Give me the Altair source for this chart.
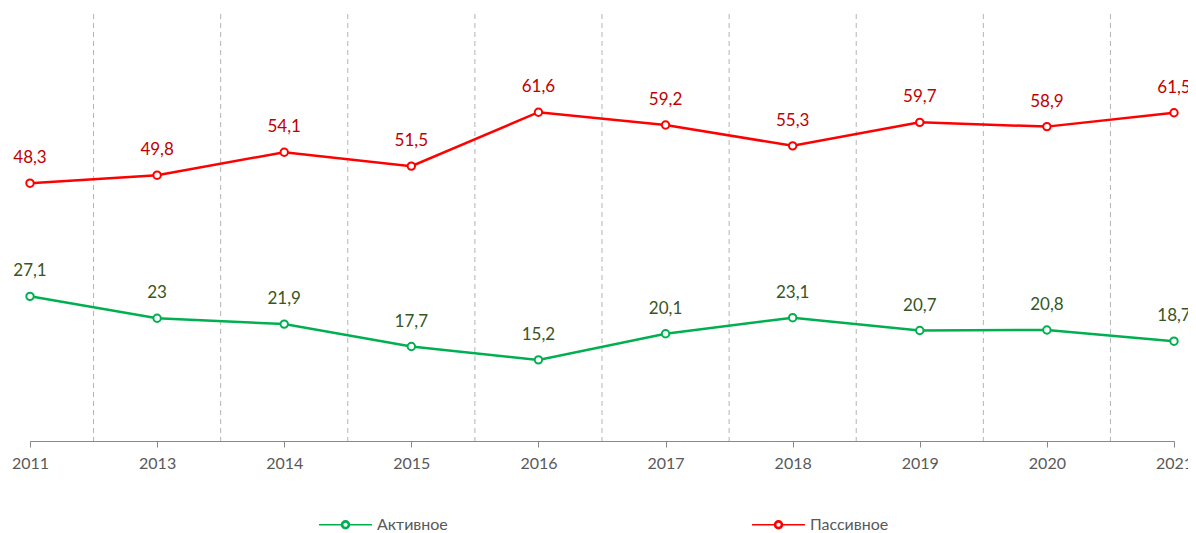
import altair as alt
import pandas as pd

years = ["2011", "2013", "2014", "2015", "2016", "2017", "2018", "2019", "2020", "2021"]
active = [27.1, 23, 21.9, 17.7, 15.2, 20.1, 23.1, 20.7, 20.8, 18.7]
passive = [48.3, 49.8, 54.1, 51.5, 61.6, 59.2, 55.3, 59.7, 58.9, 61.5]
series_names = ["Активное", "Пассивное"]
line_colors = ["#00B050", "#FF0000"]
label_colors = ["#375623", "#C00000"]


def fmt(v):
    s = ("%g" % v)
    return s.replace(".", ",")


rows = []
for name, vals in zip(series_names, [active, passive]):
    for y, v in zip(years, vals):
        rows.append({"year": y, "series": name, "value": v, "label": fmt(v)})
df = pd.DataFrame(rows)
grid_df = pd.DataFrame({"year": years[:-1]})

W, H = 1144, 427
step = W / (len(years) - 1)

xenc = alt.X("year:O", sort=years, scale=alt.Scale(type="point", padding=0),
             axis=alt.Axis(title=None, labelAngle=0, labelAlign="center", labelFlush=False,
                           labelBound=False, labelOverlap=False,
                           labelFont="Lato", labelFontSize=16,
                           labelColor="#595959", domainColor="#898989", tickColor="#898989",
                           tickSize=6, labelPadding=8, grid=False))
yenc = alt.Y("value:Q", scale=alt.Scale(domain=[0, 80]), axis=None)

# legend symbol: line with a hollow ring (ring drawn as outer/inner circles of opposite winding)
ring_symbol = (
    "M-1,0H-0.15M0.15,0H1"
    "M0.15,0A0.15,0.15 0 1,1 -0.15,0A0.15,0.15 0 1,1 0.15,0Z"
    "M0.11,0A0.11,0.11 0 1,0 -0.11,0A0.11,0.11 0 1,0 0.11,0Z"
)

color = alt.Color("series:N", scale=alt.Scale(domain=series_names, range=line_colors),
                  legend=alt.Legend(title=None, orient="none", direction="horizontal",
                                    legendX=288, legendY=483,
                                    labelFont="Lato", labelFontSize=16, labelColor="#595959",
                                    symbolType=ring_symbol,
                                    symbolSize=2800, symbolStrokeWidth=1.6,
                                    labelOffset=4, columnPadding=300))

grid = alt.Chart(grid_df).mark_rule(xOffset=step / 2, color="#B4B4B4", strokeDash=[5, 4], strokeWidth=1).encode(
    x=xenc, y=alt.value(0), y2=alt.value(H))

lines = alt.Chart(df).mark_line(strokeWidth=2.5).encode(x=xenc, y=yenc, color=color)
points = alt.Chart(df).mark_point(filled=False, fill="white", size=55, strokeWidth=2, opacity=1).encode(
    x=xenc, y=yenc,
    stroke=alt.Stroke("series:N", scale=alt.Scale(domain=series_names, range=line_colors), legend=None))
texts = alt.Chart(df).mark_text(font="Lato", fontSize=17, dy=-20, baseline="alphabetic").encode(
    x=xenc, y=yenc, text="label:N",
    fill=alt.Fill("series:N", scale=alt.Scale(domain=series_names, range=label_colors), legend=None))

chart = alt.layer(grid, lines, points, texts).properties(
    width=W, height=H,
    autosize=alt.AutoSizeParams(type="none"),
    padding={"left": 22, "top": 6, "right": 14, "bottom": 100},
).configure_view(stroke=None).configure_axisX(
    labelAngle=0, labelAlign="center", labelFont="Lato", labelFontSize=16, labelColor="#595959")

chart.save("out.html", embed_options={"renderer": "svg", "actions": False})
